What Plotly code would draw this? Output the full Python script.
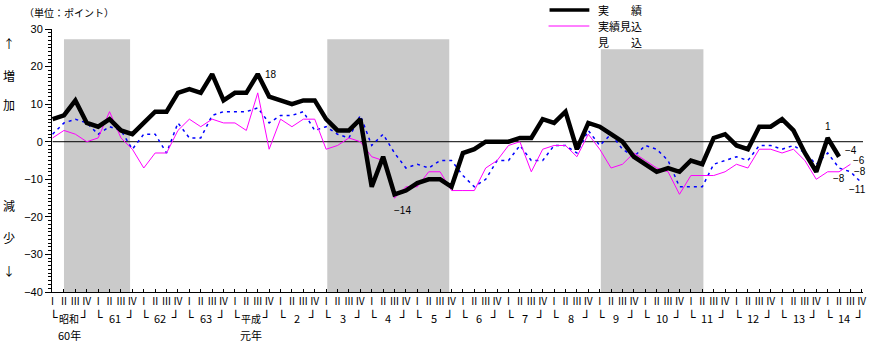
import plotly.graph_objects as go

# ---------------- data ----------------
quarter_names = ["Ⅰ", "Ⅱ", "Ⅲ", "Ⅳ"]
year_labels = ["昭和", "61", "62", "63", "平成", "2", "3", "4", "5", "6", "7", "8",
               "9", "10", "11", "12", "13", "14"]
year_sublabels = {0: "60年", 4: "元年"}

actual = [6, 7, 11, 5, 4, 6, 3, 2, 5, 8, 8, 13, 14, 13, 18, 11, 13, 13, 18, 12,
          11, 10, 11, 11, 6, 3, 3, 6, -12, -4, -14, -13, -11, -10, -10, -12, -3, -2, 0, 0,
          0, 1, 1, 6, 5, 8, -2, 5, 4, 2, 0, -4, -6, -8, -7, -8, -5, -6, 1, 2,
          -1, -2, 4, 4, 6, 3, -3, -8, 1, -4]
estimate_actual = [1, 3, 2, 0, 1, 8, 1, -2, -7, -3, -3, 3, 6, 4, 6, 5, 5, 3, 13, -2,
                   6, 4, 6, 6, -2, -1, 1, 0, -4, -5, -15, -12, -12, -8, -8, -13, -13, -13, -7, -5,
                   -1, 0, -8, -2, -1, -1, -4, 2, -2, -7, -6, -3, -5, -7, -8, -14, -9, -9, -9, -8,
                   -6, -7, -2, -2, -3, -2, -5, -10, -8, -8, -6]
forecast = [2, 5, 6, 5, 2, 4, 3, -2, 2, 2, -3, 5, 1, 1, 7, 8, 8, 8, 9, 5,
            7, 7, 8, 3, 4, 2, 1, 7, -1, 2, -3, -7, -6, -7, -5, -5, -9, -12, -10, -5,
            -5, -1, -5, -5, -1, -1, -3, 3, -1, 2, -2, -4, -1, -2, -5, -12, -12, -12, -6, -5,
            -4, -5, -1, -1, -2, -1, -3, -6, -3, -7, -8, -11]

# recession (shaded) periods: start quarter, end quarter, top value
recessions = [(1.0, 6.8, 27.3), (24.1, 34.8, 27.3), (48.1, 57.1, 24.6)]

# value labels: (series, quarter index, text, xshift, yshift)
value_labels = [
    ("actual", 18, "18", 13, 0),
    ("actual", 30, "−14", 8, -16),
    ("actual", 68, "1", 0, 11),
    ("actual", 69, "−4", 12, 6),
    ("estimate_actual", 70, "−6", 9, 4),
    ("forecast", 70, "−8", 10, 0),
    ("estimate_actual", 69, "−8", 0, -7),
    ("forecast", 71, "−11", -4, -6),
]

# ---------------- figure ----------------
FONT = "Noto Sans CJK JP"
NUMFONT = "Liberation Sans"
n_q = len(year_labels) * 4
xq = list(range(n_q))
series = {"actual": actual, "estimate_actual": estimate_actual, "forecast": forecast}

fig = go.Figure()

fig.add_trace(go.Scatter(x=xq[:len(forecast)], y=forecast, mode="lines",
                         line=dict(color="#0000ff", width=1.5, dash="3px,4px"),
                         name="見込", showlegend=False))
fig.add_trace(go.Scatter(x=xq[:len(estimate_actual)], y=estimate_actual, mode="lines",
                         line=dict(color="#ff00ff", width=1),
                         name="実績見込", showlegend=False))
fig.add_trace(go.Scatter(x=xq[:len(actual)], y=actual, mode="lines",
                         line=dict(color="#000000", width=4.5),
                         name="実績", showlegend=False))

shapes = []
for x0, x1, top in recessions:
    shapes.append(dict(type="rect", xref="x", yref="y", x0=x0, x1=x1, y0=-40, y1=top,
                       fillcolor="#cacaca", line=dict(width=0), layer="below"))
# zero line
shapes.append(dict(type="line", xref="x", yref="y", x0=0, x1=71.6, y0=0, y1=0,
                   line=dict(color="black", width=1), layer="below"))

# legend samples (paper coordinates from pixel positions)
def px(xp):
    return (xp - 52) / 815.0

def py(yp):
    return (292 - yp) / 263.0

shapes.append(dict(type="line", xref="paper", yref="paper", x0=px(552), x1=px(592),
                   y0=py(10), y1=py(10), line=dict(color="black", width=3.5)))
shapes.append(dict(type="line", xref="paper", yref="paper", x0=px(551), x1=px(592),
                   y0=py(26), y1=py(26), line=dict(color="#ff00ff", width=1)))

annotations = []
for txt, yy in [("実　　績", 10), ("実績見込", 26), ("見　　込", 42)]:
    annotations.append(dict(text=txt, xref="paper", yref="paper", x=px(599), y=py(yy),
                            xanchor="left", yanchor="middle", showarrow=False,
                            font=dict(family=FONT, size=11, color="black")))

annotations.append(dict(text="（単位：ポイント）", xref="paper", yref="paper",
                        x=px(22), y=py(12), xanchor="left", yanchor="middle",
                        showarrow=False, font=dict(family=FONT, size=10, color="black")))

for txt, yy in [("↑", 43), ("増", 75), ("加", 104), ("減", 205), ("少", 237), ("↓", 270)]:
    annotations.append(dict(text=txt, xref="paper", yref="paper", x=px(9), y=py(yy),
                            xanchor="center", yanchor="middle", showarrow=False,
                            font=dict(family=FONT, size=12, color="black")))

# year row
for i, lab in enumerate(year_labels):
    k0 = 4 * i
    kanji = not lab.isdigit()
    annotations.append(dict(text="└", xref="x", yref="paper", x=k0 + 0.1, y=py(317),
                            xanchor="center", yanchor="middle", showarrow=False,
                            font=dict(family="DejaVu Sans", size=13, color="black")))
    annotations.append(dict(text="┘", xref="x", yref="paper", x=k0 + 2.8, y=py(317),
                            xanchor="center", yanchor="middle", showarrow=False,
                            font=dict(family="DejaVu Sans", size=13, color="black")))
    annotations.append(dict(text=lab, xref="x", yref="paper",
                            x=k0 + (1.4 if kanji else 1.45), y=py(318),
                            xanchor="center", yanchor="middle", showarrow=False,
                            font=dict(family=FONT, size=10 if kanji else 11,
                                      color="black")))
    if i in year_sublabels:
        annotations.append(dict(text=year_sublabels[i], xref="x", yref="paper",
                                x=k0 + 1.45, y=py(335), xanchor="center",
                                yanchor="middle", showarrow=False,
                                font=dict(family=FONT, size=11, color="black")))

for name, k, txt, dx, dy in value_labels:
    annotations.append(dict(text=txt, x=k, y=series[name][k], xref="x", yref="y",
                            xshift=dx, yshift=dy, showarrow=False,
                            xanchor="center", yanchor="middle",
                            font=dict(family=NUMFONT, size=10, color="black")))

fig.update_layout(
    width=876, height=342,
    margin=dict(l=52, r=9, t=29, b=50),
    paper_bgcolor="white", plot_bgcolor="white",
    showlegend=False,
    shapes=shapes, annotations=annotations,
    font=dict(family=FONT, size=11, color="black"),
    xaxis=dict(range=[-0.05, 71.1], tickmode="array", tickvals=xq,
               ticktext=[quarter_names[k % 4] for k in xq],
               showgrid=False, zeroline=False, showline=True, linecolor="black",
               linewidth=1, ticks="inside", ticklen=3, tickcolor="black",
               tickfont=dict(family=FONT, size=10), tickangle=0),
    yaxis=dict(range=[-40, 30], tickmode="array", tickvals=list(range(-40, 31, 10)),
               ticktext=["−40", "−30", "−20", "−10", "0", "10", "20", "30"],
               showgrid=False, zeroline=False, showline=True, linecolor="black",
               linewidth=1, ticks="outside", ticklen=6, tickcolor="black",
               tickfont=dict(family=NUMFONT, size=11),
               minor=dict(dtick=1, ticks="outside", ticklen=3, tickcolor="black")),
)

fig.write_html("out.html")
